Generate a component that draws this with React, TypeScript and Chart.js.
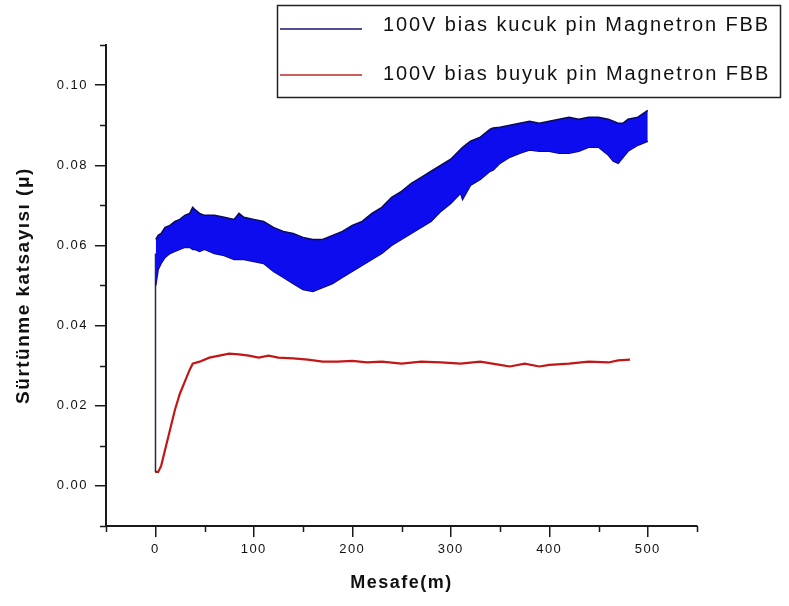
import React, { useEffect, useRef } from "react";
import { Chart, registerables } from "chart.js";

Chart.register(...registerables);

// ---- data ----
const SERIES_NAMES = ["100V bias kucuk pin Magnetron FBB", "100V bias buyuk pin Magnetron FBB"];

const BLUE_X = [0.5, 3, 6, 10, 15, 20, 25, 30, 35, 38, 40, 45, 50, 60, 70, 80, 85, 90, 100, 110, 120, 130, 140, 150, 160, 170, 180, 190, 200, 210, 220, 230, 240, 250, 260, 270, 280, 290, 300, 310, 312, 320, 330, 340, 343, 350, 360, 370, 380, 390, 400, 410, 420, 430, 440, 450, 460, 465, 470, 475, 480, 490, 500];
const BLUE_UPPER = [0.0615, 0.0625, 0.063, 0.0645, 0.065, 0.066, 0.0665, 0.0675, 0.068, 0.0695, 0.069, 0.068, 0.0675, 0.0675, 0.067, 0.0665, 0.068, 0.067, 0.0665, 0.066, 0.0645, 0.0635, 0.063, 0.062, 0.0615, 0.0615, 0.0625, 0.0635, 0.065, 0.066, 0.068, 0.0695, 0.072, 0.0735, 0.0755, 0.077, 0.0785, 0.08, 0.0815, 0.084, 0.0845, 0.086, 0.087, 0.089, 0.0893, 0.0895, 0.09, 0.0905, 0.091, 0.0905, 0.091, 0.0915, 0.092, 0.0915, 0.092, 0.092, 0.0915, 0.091, 0.0905, 0.0905, 0.0915, 0.092, 0.0937];
const BLUE_LOWER = [0.05, 0.054, 0.0555, 0.057, 0.058, 0.0585, 0.059, 0.0595, 0.0595, 0.059, 0.059, 0.0585, 0.059, 0.058, 0.0575, 0.0565, 0.0565, 0.0565, 0.056, 0.0555, 0.0535, 0.052, 0.0505, 0.049, 0.0485, 0.0495, 0.0505, 0.052, 0.0535, 0.055, 0.0565, 0.058, 0.06, 0.0615, 0.063, 0.0645, 0.066, 0.0685, 0.0705, 0.073, 0.0715, 0.075, 0.0765, 0.0785, 0.0788, 0.0805, 0.082, 0.083, 0.0838, 0.0835, 0.0835, 0.083, 0.083, 0.0835, 0.0845, 0.0845, 0.0825, 0.081, 0.0805, 0.082, 0.0835, 0.085, 0.086];
const BLUE_START_X = [0, 0, 0.5];
const BLUE_START_Y = [0.0035, 0.058, 0.058];

const RED_X = [0, 3, 6, 10, 15, 20, 25, 30, 35, 38, 45, 55, 65, 75, 85, 95, 105, 115, 125, 140, 155, 170, 185, 200, 215, 230, 250, 270, 290, 310, 330, 350, 360, 375, 390, 400, 420, 440, 460, 470, 482];
const RED_Y = [0.0035, 0.0035, 0.005, 0.009, 0.014, 0.019, 0.023, 0.026, 0.029, 0.0305, 0.031, 0.032, 0.0325, 0.033, 0.0328, 0.0325, 0.032, 0.0325, 0.032, 0.0318, 0.0315, 0.031, 0.031, 0.0312, 0.0308, 0.031, 0.0305, 0.031, 0.0308, 0.0305, 0.031, 0.0302, 0.0298, 0.0305, 0.0298, 0.0302, 0.0305, 0.031, 0.0308, 0.0313, 0.0315];

const X_TICKS = [0, 100, 200, 300, 400, 500];
const X_MINOR = [-50, 50, 150, 250, 350, 450, 550];
const Y_TICKS = [0, 0.02, 0.04, 0.06, 0.08, 0.1];
const Y_MINOR = [-0.01, 0.01, 0.03, 0.05, 0.07, 0.09, 0.11];

const X_TITLE = "Mesafe(m)";
const Y_TITLE = "Sürtünme katsayısı (μ)";

const BLUE_FILL = "rgb(12,12,238)";
const BLUE_EDGE = "rgb(10,10,90)";
const RED_LINE = "rgb(195,22,22)";

const pts = (xs: number[], ys: number[]) => xs.map((x, i) => ({ x, y: ys[i] }));

const minorTicks = {
  id: "minorTicks",
  beforeDraw(chart: any) {
    chart.ctx.letterSpacing = "1.5px";
  },
  afterDraw(chart: any) {
    const ctx = chart.ctx;
    const xs = chart.scales.x;
    const ys = chart.scales.y;
    const area = chart.chartArea;
    ctx.save();
    ctx.strokeStyle = "#1a1a1a";
    ctx.lineWidth = 1.5;
    ctx.beginPath();
    Y_MINOR.forEach((v) => {
      const p = Math.round(ys.getPixelForValue(v)) + 0.5;
      ctx.moveTo(area.left, p);
      ctx.lineTo(area.left - 6, p);
    });
    X_MINOR.forEach((v) => {
      const p = Math.round(xs.getPixelForValue(v)) + 0.5;
      ctx.moveTo(p, area.bottom);
      ctx.lineTo(p, area.bottom + 6);
    });
    ctx.stroke();

    // legend box
    const bx = 277.5, by = 5.5, bw = 503, bh = 92;
    ctx.fillStyle = "#ffffff";
    ctx.fillRect(bx, by, bw, bh);
    ctx.strokeStyle = "#222";
    ctx.lineWidth = 1.5;
    ctx.strokeRect(bx, by, bw, bh);
    const rows = [
      { y: 29, ty: 25, color: "rgb(20,20,110)", width: 1.5 },
      { y: 75, ty: 74, color: "rgb(190,40,40)", width: 1.3 },
    ];
    ctx.font = "20px 'Liberation Sans', Arial, sans-serif";
    ctx.textBaseline = "middle";
    ctx.textAlign = "left";
    rows.forEach((r, i) => {
      ctx.strokeStyle = r.color;
      ctx.lineWidth = r.width;
      ctx.beginPath();
      ctx.moveTo(280, r.y);
      ctx.lineTo(362, r.y);
      ctx.stroke();
      const label = SERIES_NAMES[i];
      ctx.letterSpacing = "0px";
      const w0 = ctx.measureText(label).width;
      const sp = (387 - w0) / label.length;
      ctx.letterSpacing = sp.toFixed(2) + "px";
      ctx.fillStyle = "#111";
      ctx.fillText(label, 383, r.ty);
    });
    ctx.restore();
  },
};

export default function App() {
  const ref = useRef<HTMLCanvasElement | null>(null);
  useEffect(() => {
    if (!ref.current) return;
    const chart = new Chart(ref.current, {
      type: "line",
      data: {
        datasets: [
          {
            label: SERIES_NAMES[0],
            data: pts(BLUE_X, BLUE_UPPER),
            borderColor: BLUE_EDGE,
            borderWidth: 1.5,
            backgroundColor: BLUE_FILL,
            fill: "+1",
            pointRadius: 0,
            tension: 0,
          },
          {
            label: SERIES_NAMES[0] + " (lower)",
            data: pts(BLUE_X, BLUE_LOWER),
            borderColor: BLUE_EDGE,
            borderWidth: 1.5,
            fill: false,
            pointRadius: 0,
            tension: 0,
          },
          {
            label: SERIES_NAMES[0] + " (start)",
            data: pts(BLUE_START_X, BLUE_START_Y),
            borderColor: "rgb(40,40,70)",
            borderWidth: 1.5,
            fill: false,
            pointRadius: 0,
            tension: 0,
          },
          {
            label: SERIES_NAMES[1],
            data: pts(RED_X, RED_Y),
            borderColor: RED_LINE,
            borderWidth: 2.2,
            fill: false,
            pointRadius: 0,
            tension: 0,
          },
        ],
      },
      options: {
        responsive: false,
        animation: false,
        layout: { padding: { top: 45, right: 92, left: 0, bottom: 0 } },
        plugins: { legend: { display: false }, tooltip: { enabled: false } },
        scales: {
          x: {
            type: "linear",
            min: -50,
            max: 550,
            afterBuildTicks: (s: any) => {
              s.ticks = X_TICKS.map((v) => ({ value: v }));
            },
            afterFit: (s: any) => {
              s.height = 80;
            },
            border: { display: true, color: "#1a1a1a", width: 2 },
            grid: { display: true, drawOnChartArea: false, drawTicks: true, tickLength: 11, color: "#1a1a1a", lineWidth: 1.5 },
            ticks: {
              padding: 5,
              color: "#111",
              font: { family: "'Liberation Sans', Arial, sans-serif", size: 13 },
              callback: (v: any) => String(v),
              maxRotation: 0,
            },
            title: {
              display: true,
              text: X_TITLE,
              color: "#111",
              font: { family: "'Liberation Sans', Arial, sans-serif", size: 18, weight: "bold" },
              padding: { top: 0, bottom: 12 },
            },
          },
          y: {
            type: "linear",
            min: -0.01,
            max: 0.11,
            afterBuildTicks: (s: any) => {
              s.ticks = Y_TICKS.map((v) => ({ value: v }));
            },
            afterFit: (s: any) => {
              s.width = 106;
            },
            border: { display: true, color: "#1a1a1a", width: 2 },
            grid: { display: true, drawOnChartArea: false, drawTicks: true, tickLength: 11, color: "#1a1a1a", lineWidth: 1.5 },
            ticks: {
              padding: 7,
              color: "#111",
              font: { family: "'Liberation Sans', Arial, sans-serif", size: 13 },
              callback: (v: any) => Number(v).toFixed(2),
            },
            title: {
              display: true,
              text: Y_TITLE,
              color: "#111",
              font: { family: "'Liberation Sans', Arial, sans-serif", size: 19, weight: "bold" },
              padding: { top: 12, bottom: 0 },
            },
          },
        },
      },
      plugins: [minorTicks],
    } as any);
    return () => chart.destroy();
  }, []);
  return (
    <div style={{ position: "absolute", left: 0, top: 0, width: 789, height: 606, background: "#fff" }}>
      <canvas ref={ref} width={789} height={606} />
    </div>
  );
}
